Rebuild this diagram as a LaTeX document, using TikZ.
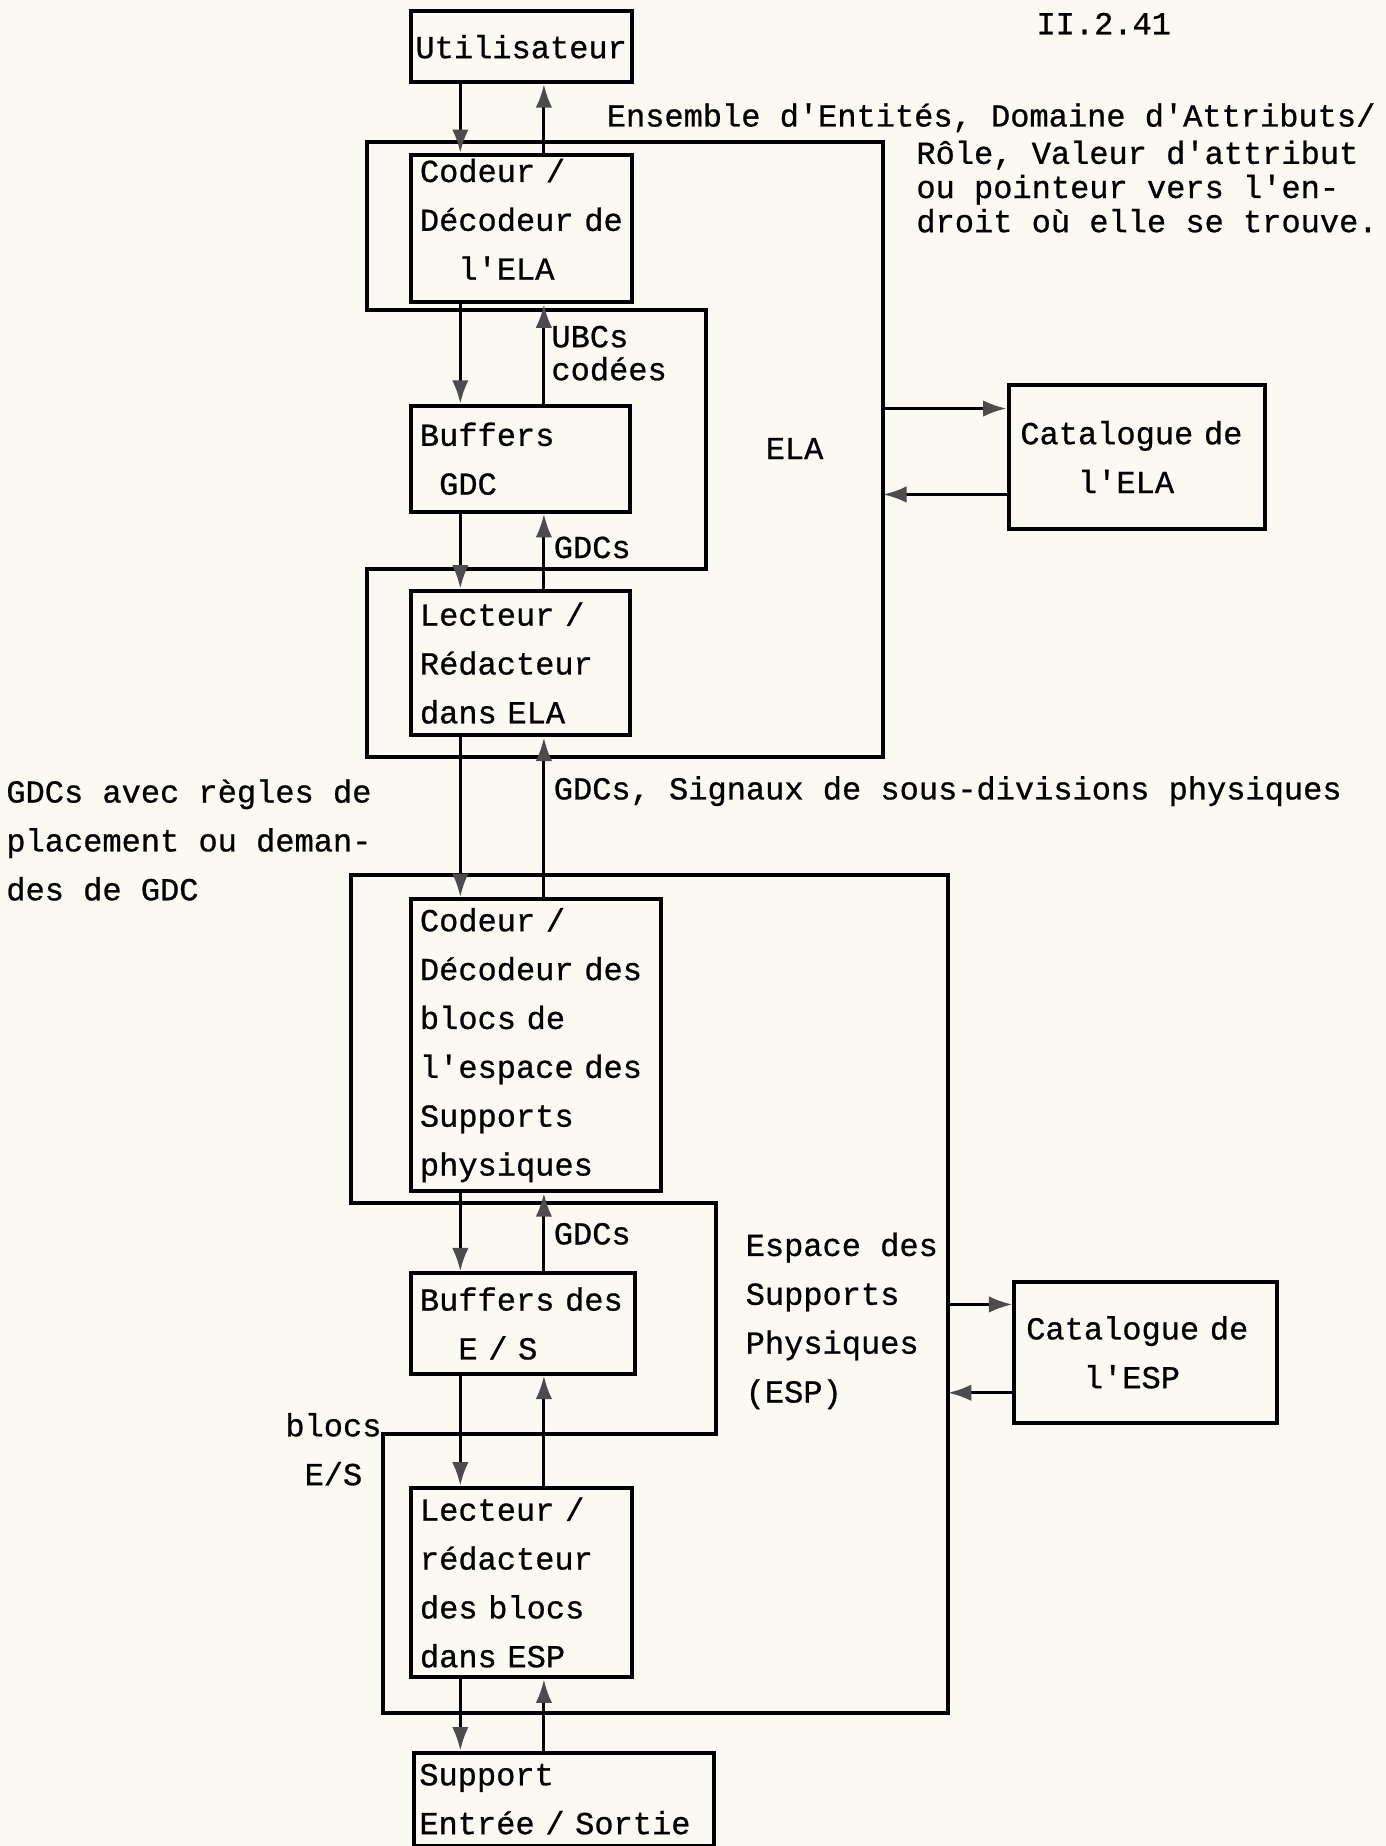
\documentclass[tikz,border=0pt]{standalone}
\usepackage{fontspec}
\newfontfamily\tw[FakeBold=0.8]{Liberation Mono}
\usetikzlibrary{arrows.meta,calc}
\definecolor{paper}{RGB}{250,250,243}
\begin{document}
\begin{tikzpicture}[x=0.5pt,y=-0.5pt,
  blk/.style={draw, line width=1.7pt, anchor=north west, inner xsep=4pt, inner ysep=0pt,
    align=left, font=\tw\fontsize{13.6}{20.75}\selectfont},
  lab/.style={anchor=west, inner sep=0pt, align=left, font=\tw\fontsize{13.6}{20.75}\selectfont},
  outl/.style={line width=1.7pt, line join=miter},
  arr/.style={line width=1.3pt, -{Latex[length=10pt,width=7pt,color=black!70]}}]
\fill[paper] (0,0) rectangle (1177,1568);
\useasboundingbox (0,0) rectangle (1177,1568);

% boxes
\node[blk, minimum width=94pt, minimum height=30pt, align=center, inner xsep=0pt] (util) at (347,8) {Utilisateur};
\node[blk, minimum width=94pt, text width=86pt, minimum height=62.5pt] (codela) at (347,130) {Codeur~/\\Décodeur~de\\\phantom{xx}l'ELA\rule[-8pt]{0pt}{8pt}};
\node[blk, minimum width=93pt, text width=85pt, minimum height=45pt] (bufgdc) at (347,343) {Buffers\\\phantom{x}GDC};
\node[blk, minimum width=93pt, text width=85pt, minimum height=61.5pt] (lecela) at (347,500) {Lecteur~/\\Rédacteur\\dans~ELA};
\node[blk, minimum width=109pt, text width=99pt, inner xsep=5pt, minimum height=61.5pt] (catela) at (855,325) {Catalogue~de\\\phantom{xxx}l'ELA};
\node[blk, minimum width=106.5pt, text width=98.5pt, minimum height=124pt] (codesp) at (347,762) {Codeur~/\\Décodeur~des\\blocs~de\\l'espace~des\\Supports\\physiques};
\node[blk, minimum width=95.5pt, text width=87.5pt, minimum height=42.5pt] (bufes) at (347,1080) {Buffers~des\\\phantom{xx}E~/~S};
\node[blk, minimum width=94pt, text width=86pt, minimum height=80.5pt] (lecesp) at (347,1262) {Lecteur~/\\rédacteur\\des~blocs\\dans~ESP};
\node[blk, minimum width=127.5pt, text width=123pt, inner xsep=2.25pt, minimum height=39.5pt] (supp) at (350,1487) {Support\\Entrée~/~Sortie};
\node[blk, minimum width=111.5pt, text width=101.5pt, inner xsep=5pt, minimum height=60pt] (catesp) at (860,1087) {Catalogue~de\\\phantom{xxx}l'ESP};

% ELA outline
\coordinate (elaNW) at (312,121);
\coordinate (elaNE) at (750,121);
\coordinate (elaSE) at (750,643);
\coordinate (elaSW) at (312,643);
\coordinate (elaA) at (312,483);
\coordinate (elaB) at (600,483);
\coordinate (elaC) at (600,263);
\coordinate (elaD) at (312,263);
\draw[outl] (elaNW) -- (elaNE) -- (elaSE) -- (elaSW) -- (elaA) -- (elaB) -- (elaC) -- (elaD) -- cycle;

% ESP outline
\coordinate (espNW) at (298,743);
\coordinate (espNE) at (805,743);
\coordinate (espSE) at (805,1455);
\coordinate (espSW) at (325,1455);
\coordinate (espA) at (325,1218);
\coordinate (espB) at (608,1218);
\coordinate (espC) at (608,1022);
\coordinate (espD) at (298,1022);
\draw[outl] (espNW) -- (espNE) -- (espSE) -- (espSW) -- (espA) -- (espB) -- (espC) -- (espD) -- cycle;

% vertical connectors
\coordinate (dnx) at (391,0);
\coordinate (upx) at (462,0);
\foreach \a/\b in {util/codela, codela/bufgdc, bufgdc/lecela, lecela/codesp, codesp/bufes, bufes/lecesp, lecesp/supp}{
  \draw[arr] (\a.south -| dnx) -- (\b.north -| dnx);
  \draw[arr] (\b.north -| upx) -- (\a.south -| upx);
}

% catalogue connectors
\coordinate (ya1) at (0,347);
\coordinate (ya2) at (0,420);
\coordinate (yb1) at (0,1108);
\coordinate (yb2) at (0,1183);
\draw[arr] (elaNE |- ya1) -- (catela.west |- ya1);
\draw[arr] (catela.west |- ya2) -- (elaNE |- ya2);
\draw[arr] (espNE |- yb1) -- (catesp.west |- yb1);
\draw[arr] (catesp.west |- yb2) -- (espNE |- yb2);

% labels
\node[lab] (ii) at (880,20) {II.2.41};
\node[lab] (ens1) at (515,100) {Ensemble d'Entités, Domaine d'Attributs/};
\node[lab, font=\tw\fontsize{13.6}{14.5}\selectfont] (ens2) at (778,158.5) {Rôle, Valeur d'attribut\\ou pointeur vers l'en-\\droit où elle se trouve.};
\node[lab, font=\tw\fontsize{13.6}{14}\selectfont] (ubc) at (468,300) {UBCs\\codées};
\node[lab] (gdc1) at (470,465) {GDCs};
\node[lab] (ela) at (650,381) {ELA};
\node[lab] (gdcs2) at (470,672) {GDCs, Signaux de sous-divisions physiques};
\node[lab] (gdcav) at (5,713.5) {GDCs avec règles de\\placement ou deman-\\des de GDC};
\node[lab] (gdc3) at (470,1048) {GDCs};
\node[lab] (espl) at (633,1122) {Espace des\\Supports\\Physiques\\(ESP)};
\node[lab] (blocs) at (242,1231) {blocs\\\phantom{x}E/S};
\end{tikzpicture}
\end{document}
